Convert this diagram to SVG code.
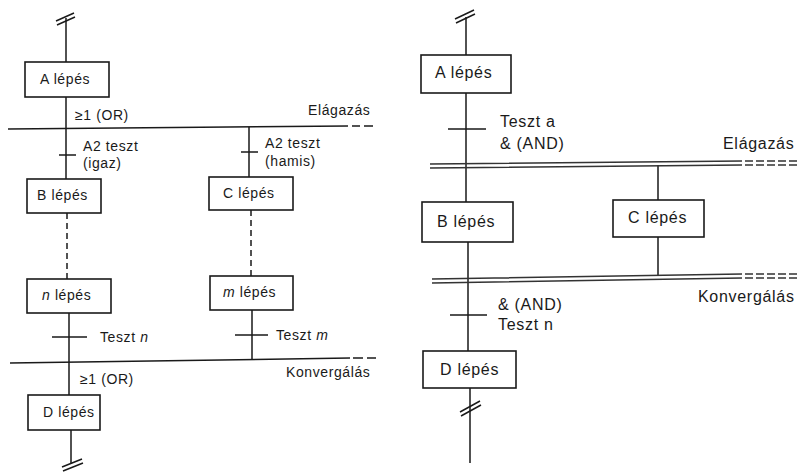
<svg xmlns="http://www.w3.org/2000/svg" width="799" height="472" viewBox="0 0 799 472">
<style>
.box{fill:#fff;stroke:#1a1a1a;stroke-width:1.6}
.ln{fill:none;stroke:#1a1a1a;stroke-width:1.5}
.dl{fill:none;stroke:#1a1a1a;stroke-width:1.5;stroke-dasharray:6 4}
.db{fill:none;stroke:#333;stroke-width:1.3}
.t{font-family:"Liberation Sans",Arial,sans-serif;font-size:14px;letter-spacing:0.6px;fill:#1a1a1a}
.r{font-size:16px;letter-spacing:0.7px}
</style>
<rect width="799" height="472" fill="#fff"/>
<g id="connectors">
<!-- left diagram -->
<path class="ln" d="M66 18V62M66 97V179M249 127V177M69 313V395M252 310V359M71 430V464"/>
<path class="dl" d="M67 213V279M251 210V276"/>
<path class="ln" d="M8 129L348 126"/>
<path class="ln" d="M352 126H360M364 126H373" stroke-width="1.3"/>
<path class="ln" d="M10 363L350 358"/>
<path class="ln" d="M353 358H363M367 358H376" stroke-width="1.3"/>
<path class="ln" d="M59 155H76M241 152H258M52 337H87M235 335H268"/>
<path class="ln" d="M56 21L74 13M57 25L75 17M62 467L82 459M63 471L83 463" stroke-width="1.3"/>
<!-- right diagram -->
<path class="ln" d="M466 17V55M466 93V202M658 165V200M658 237V275M468 242V351M470 388V463"/>
<path class="db" d="M430 164L742 161M430 168L742 165"/>
<path class="db" d="M745 161H753M756 161H764M767 161H775M778 161H786M789 161H797M745 165H753M756 165H764M767 165H775M778 165H786M789 165H797"/>
<path class="db" d="M432 279L742 274M432 283L742 278"/>
<path class="db" d="M745 274H753M756 274H764M767 274H775M778 274H786M789 274H797M745 278H753M756 278H764M767 278H775M778 278H786M789 278H797"/>
<path class="ln" d="M448 129H486M450 315H487"/>
<path class="ln" d="M455 19L474 10M456 23L475 14M460 412L480 401M461 416L481 405" stroke-width="1.3"/>
</g>
<g id="L-A"><rect class="box" x="25" y="62" width="84" height="35"/><text class="t" x="40" y="84">A lépés</text></g>
<g id="L-B"><rect class="box" x="27" y="179" width="74" height="34"/><text class="t" x="37" y="200">B lépés</text></g>
<g id="L-C"><rect class="box" x="209" y="177" width="84" height="33"/><text class="t" x="223" y="198">C lépés</text></g>
<g id="L-n"><rect class="box" x="27" y="279" width="84" height="34"/><text class="t" x="42" y="300"><tspan font-style="italic">n</tspan> lépés</text></g>
<g id="L-m"><rect class="box" x="210" y="276" width="83" height="34"/><text class="t" x="223" y="297"><tspan font-style="italic">m</tspan> lépés</text></g>
<g id="L-D"><rect class="box" x="28" y="395" width="72" height="35"/><text class="t" x="43" y="417">D lépés</text></g>
<g id="L-labels">
<text class="t" x="75" y="120">≥1 (OR)</text>
<text class="t" x="308" y="115">Elágazás</text>
<text class="t" x="83" y="151">A2 teszt</text>
<text class="t" x="83" y="168">(igaz)</text>
<text class="t" x="265" y="148">A2 teszt</text>
<text class="t" x="265" y="166">(hamis)</text>
<text class="t" x="100" y="342">Teszt <tspan font-style="italic">n</tspan></text>
<text class="t" x="276" y="340">Teszt <tspan font-style="italic">m</tspan></text>
<text class="t" x="286" y="377">Konvergálás</text>
<text class="t" x="80" y="384">≥1 (OR)</text>
</g>
<g id="R-A"><rect class="box" x="421" y="55" width="90" height="38"/><text class="t r" x="435" y="78">A lépés</text></g>
<g id="R-B"><rect class="box" x="422" y="202" width="91" height="40"/><text class="t r" x="437" y="227">B lépés</text></g>
<g id="R-C"><rect class="box" x="613" y="200" width="91" height="37"/><text class="t r" x="628" y="223">C lépés</text></g>
<g id="R-D"><rect class="box" x="423" y="351" width="93" height="37"/><text class="t r" x="440" y="375">D lépés</text></g>
<g id="R-labels">
<text class="t r" x="500" y="127">Teszt a</text>
<text class="t r" x="500" y="149">&amp; (AND)</text>
<text class="t r" x="723" y="149">Elágazás</text>
<text class="t r" x="698" y="302">Konvergálás</text>
<text class="t r" x="498" y="310">&amp; (AND)</text>
<text class="t r" x="498" y="330">Teszt n</text>
</g>
</svg>
